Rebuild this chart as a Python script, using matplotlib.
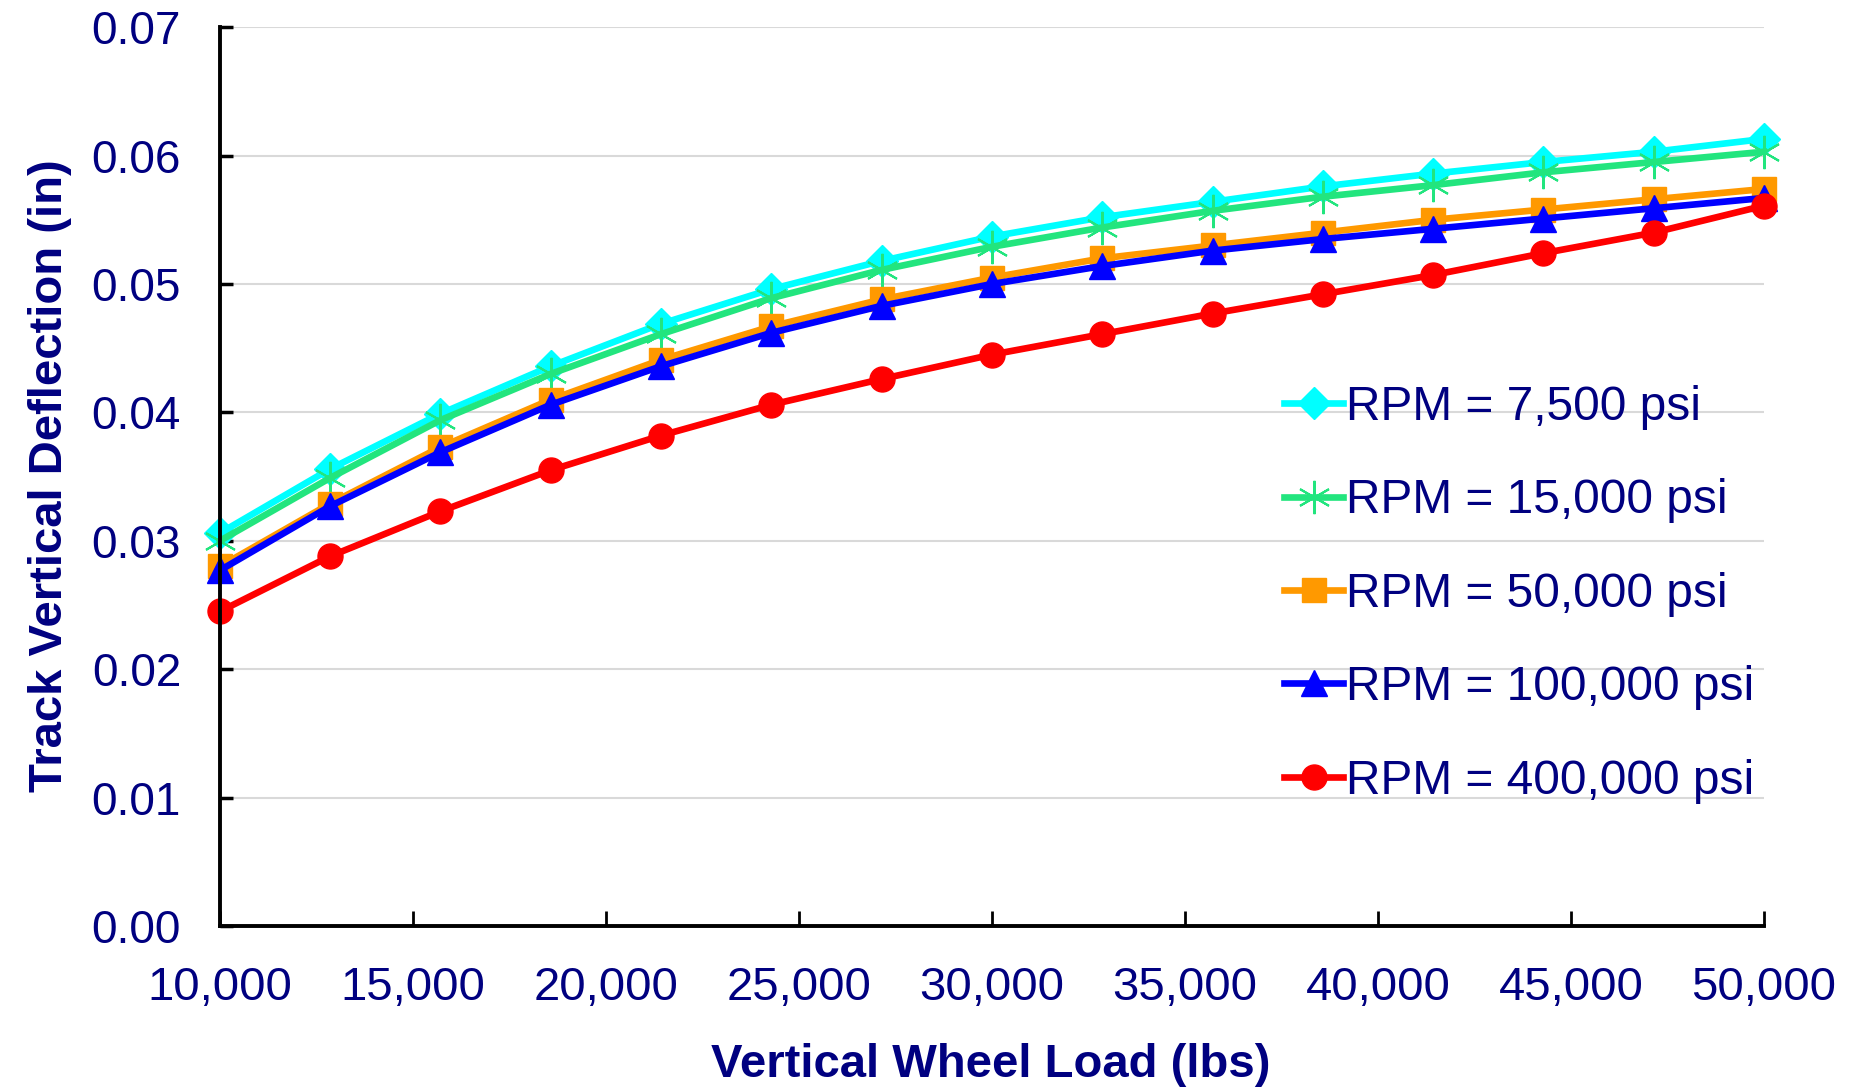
import matplotlib
matplotlib.use("Agg")
import matplotlib.pyplot as plt
from matplotlib import font_manager as fm
from matplotlib.ticker import FuncFormatter, MultipleLocator

# ---- data ----
wheel_load = [10000, 12857, 15714, 18571, 21429, 24286, 27143, 30000,
              32857, 35714, 38571, 41429, 44286, 47143, 50000]
rpm_7500 = [0.0306, 0.0356, 0.0399, 0.0436, 0.0469, 0.0496, 0.0518, 0.0537,
            0.0552, 0.0564, 0.0576, 0.0586, 0.0595, 0.0603, 0.0613]
rpm_15000 = [0.0300, 0.0349, 0.0394, 0.0430, 0.0461, 0.0489, 0.0511, 0.0529,
             0.0544, 0.0557, 0.0568, 0.0577, 0.0587, 0.0595, 0.0603]
rpm_50000 = [0.0280, 0.0329, 0.0373, 0.0410, 0.0441, 0.0467, 0.0488, 0.0505,
             0.0520, 0.0530, 0.0540, 0.0550, 0.0558, 0.0566, 0.0574]
rpm_100000 = [0.0277, 0.0327, 0.0369, 0.0406, 0.0436, 0.0462, 0.0483, 0.0500,
              0.0514, 0.0526, 0.0535, 0.0543, 0.0551, 0.0559, 0.0567]
rpm_400000 = [0.0245, 0.0288, 0.0323, 0.0355, 0.0382, 0.0406, 0.0426, 0.0445,
              0.0461, 0.0477, 0.0492, 0.0507, 0.0524, 0.0540, 0.0561]
series_labels = ["RPM = 7,500 psi", "RPM = 15,000 psi", "RPM = 50,000 psi",
                 "RPM = 100,000 psi", "RPM = 400,000 psi"]
x_title = "Vertical Wheel Load (lbs)"
y_title = "Track Vertical Deflection (in)"

navy = "#000080"
names = {f.name for f in fm.fontManager.ttflist}
if "Liberation Sans Narrow" in names:
    title_font, title_size = "Liberation Sans Narrow", 41
else:
    title_font, title_size = "Liberation Sans", 34

fig = plt.figure(figsize=(18.56, 10.89), dpi=100)
ax = fig.add_axes([0.1185, 0.1497, 0.9504 - 0.1185, 0.975 - 0.1497])

styles = [
    dict(color="#00FFFF", marker="D", ms=16, mec="#00FFFF", mfc="#00FFFF", mew=1),
    dict(color="#22E57E", marker=(6, 2, 0), ms=24, mec="#22E57E", mfc="none", mew=1.5),
    dict(color="#FF9900", marker="s", ms=17, mec="#FF9900", mfc="#FF9900", mew=1),
    dict(color="#0000FF", marker="^", ms=19, mec="#0000FF", mfc="#0000FF", mew=1),
    dict(color="#FF0000", marker="o", ms=18, mec="#FF0000", mfc="#FF0000", mew=1),
]
data = [rpm_7500, rpm_15000, rpm_50000, rpm_100000, rpm_400000]
for ys, lab, st in zip(data, series_labels, styles):
    ax.plot(wheel_load, ys, lw=4.8, label=lab, clip_on=False, **st)

ax.set_xlim(10000, 50000)
ax.set_ylim(0, 0.07)
ax.xaxis.set_major_locator(MultipleLocator(5000))
ax.yaxis.set_major_locator(MultipleLocator(0.01))
ax.xaxis.set_major_formatter(FuncFormatter(lambda v, p: f"{int(round(v)):,}"))
ax.yaxis.set_major_formatter(FuncFormatter(lambda v, p: f"{v:.2f}"))

ax.grid(axis="y", color="#D9D9D9", lw=1.5)
ax.set_axisbelow(True)
for s in ["top", "right"]:
    ax.spines[s].set_visible(False)
for s in ["left", "bottom"]:
    ax.spines[s].set_linewidth(2.8)
    ax.spines[s].set_color("black")

ax.tick_params(axis="y", direction="in", length=9, width=2.5, pad=28,
               labelsize=33, labelcolor=navy)
ax.tick_params(axis="x", direction="in", length=11, width=2, pad=29,
               labelsize=34, labelcolor=navy)
for t in ax.get_yticklabels() + ax.get_xticklabels():
    t.set_fontfamily("Liberation Sans")

fig.text(991 / 1856, 12 / 1089, x_title, ha="center", va="baseline",
         fontsize=title_size, fontweight="bold", color=navy, family=title_font)
fig.text(62 / 1856, 1 - 476 / 1089, y_title, ha="center", va="baseline",
         rotation=90, rotation_mode="anchor",
         fontsize=title_size, fontweight="bold", color=navy, family=title_font)

leg = ax.legend(loc="upper left", bbox_to_anchor=(1284 / 1856, 1 - 385 / 1089),
                bbox_transform=fig.transFigure, frameon=False,
                prop=dict(family="Liberation Sans", size=34.5),
                handlelength=1.24, handletextpad=0.05, labelspacing=1.01,
                borderpad=0, borderaxespad=0, markerscale=1.0)
for t in leg.get_texts():
    t.set_color(navy)

fig.savefig("out.png", dpi=100)
